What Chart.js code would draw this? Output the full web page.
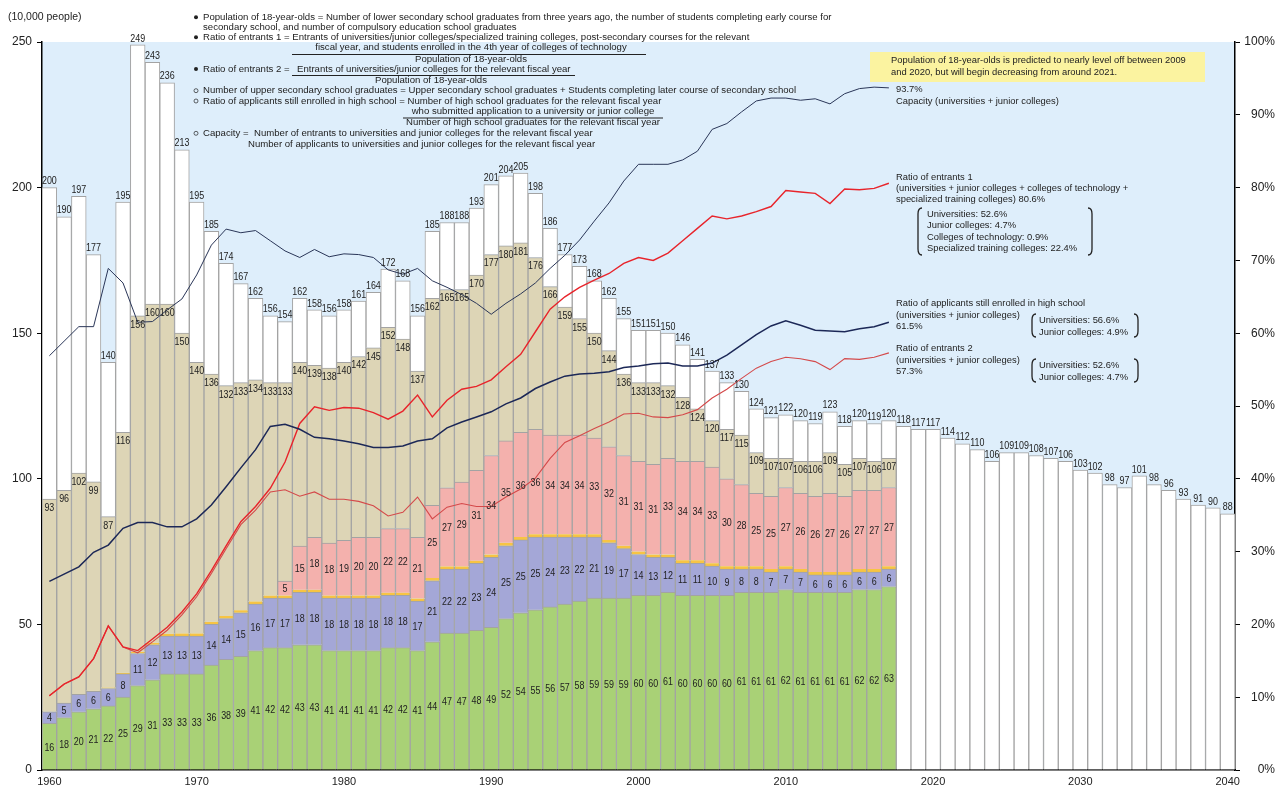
<!DOCTYPE html>
<html>
<head>
<meta charset="utf-8">
<script src="https://cdn.jsdelivr.net/npm/chart.js@4.4.1/dist/chart.umd.min.js"></script>
<style>
  html, body { margin: 0; padding: 0; background: #fff; }
</style>
</head>
<body>
<canvas id="trendChart" width="1283" height="787"></canvas>
<script>
// categories
const years = [
  1960, 1961, 1962, 1963, 1964, 1965, 1966, 1967, 1968, 1969,
  1970, 1971, 1972, 1973, 1974, 1975, 1976, 1977, 1978, 1979,
  1980, 1981, 1982, 1983, 1984, 1985, 1986, 1987, 1988, 1989,
  1990, 1991, 1992, 1993, 1994, 1995, 1996, 1997, 1998, 1999,
  2000, 2001, 2002, 2003, 2004, 2005, 2006, 2007, 2008, 2009,
  2010, 2011, 2012, 2013, 2014, 2015, 2016, 2017, 2018, 2019,
  2020, 2021, 2022, 2023, 2024, 2025, 2026, 2027, 2028, 2029,
  2030, 2031, 2032, 2033, 2034, 2035, 2036, 2037, 2038, 2039,
  2040
];
const xTickYears = [1960, 1970, 1980, 1990, 2000, 2010, 2020, 2030, 2040];

// population of 18-year-olds (10,000 people), 1960-2040
const population = [
  200, 190, 197, 177, 140, 195, 249, 243, 236, 213,
  195, 185, 174, 167, 162, 156, 154, 162, 158, 156,
  158, 161, 164, 172, 168, 156, 185, 188, 188, 193,
  201, 204, 205, 198, 186, 177, 173, 168, 162, 155,
  151, 151, 150, 146, 141, 137, 133, 130, 124, 121,
  122, 120, 119, 123, 118, 120, 119, 120, 118, 117,
  117, 114, 112, 110, 106, 109, 109, 108, 107, 106,
  103, 102, 98, 97, 101, 98, 96, 93, 91, 90,
  88
];

// the rest run 1960-2017
const graduates = [
  93, 96, 102, 99, 87, 116, 156, 160, 160, 150,
  140, 136, 132, 133, 134, 133, 133, 140, 139, 138,
  140, 142, 145, 152, 148, 137, 162, 165, 165, 170,
  177, 180, 181, 176, 166, 159, 155, 150, 144, 136,
  133, 133, 132, 128, 124, 120, 117, 115, 109, 107,
  107, 106, 106, 109, 105, 107, 106, 107
];
const universities = [
  16, 18, 20, 21, 22, 25, 29, 31, 33, 33,
  33, 36, 38, 39, 41, 42, 42, 43, 43, 41,
  41, 41, 41, 42, 42, 41, 44, 47, 47, 48,
  49, 52, 54, 55, 56, 57, 58, 59, 59, 59,
  60, 60, 61, 60, 60, 60, 60, 61, 61, 61,
  62, 61, 61, 61, 61, 62, 62, 63
];
const juniorColleges = [
  4, 5, 6, 6, 6, 8, 11, 12, 13, 13,
  13, 14, 14, 15, 16, 17, 17, 18, 18, 18,
  18, 18, 18, 18, 18, 17, 21, 22, 22, 23,
  24, 25, 25, 25, 24, 23, 22, 21, 19, 17,
  14, 13, 12, 11, 11, 10, 9, 8, 8, 7,
  7, 7, 6, 6, 6, 6, 6, 6
];
const techColleges = [
  0, 0, 0.1, 0.2, 0.3, 0.4, 0.6, 0.7, 0.8, 0.9,
  0.9, 0.9, 0.9, 0.9, 0.9, 0.9, 0.9, 0.9, 0.9, 0.9,
  0.9, 0.9, 0.9, 0.9, 0.9, 0.9, 0.9, 0.9, 0.9, 0.9,
  1.0, 1.0, 1.0, 1.0, 1.0, 1.0, 1.0, 1.0, 1.0, 1.0,
  1.0, 1.0, 1.0, 1.0, 1.0, 1.0, 1.0, 1.0, 1.0, 1.0,
  1.0, 1.0, 1.0, 1.0, 1.0, 1.0, 1.0, 1.0
];
const trainingColleges = [
  null, null, null, null, null, null, null, null, null, null,
  null, null, null, null, null, null, 5, 15, 18, 18,
  19, 20, 20, 22, 22, 21, 25, 27, 29, 31,
  34, 35, 36, 36, 34, 34, 34, 33, 32, 31,
  31, 31, 33, 34, 34, 33, 30, 28, 25, 25,
  27, 26, 26, 27, 26, 27, 27, 27
];

// ratios (%)
const capacity = [
  56.9, 58.9, 60.9, 60.9, 68.9, 66.9, 61.5, 61.6, 63.2, 64.7,
  68.0, 72.1, 74.3, 73.8, 74.1, 72.7, 71.3, 70.4, 71.5, 70.5,
  70.9, 70.8, 70.4, 68.7, 68.1, 68.9, 67.2, 66.3, 65.3, 64.1,
  62.6, 64.1, 65.4, 66.9, 68.9, 70.7, 72.8, 75.4, 77.9, 80.9,
  83.2, 83.2, 83.2, 83.8, 85.0, 88.0, 88.8, 90.4, 91.9, 92.3,
  92.3, 92.0, 92.2, 91.5, 92.9, 93.6, 93.8, 93.7
];
const applicantsRatio = [
  25.9, 26.9, 27.9, 29.9, 30.9, 33.2, 34.0, 34.0, 33.4, 33.4,
  34.5, 36.4, 38.9, 41.5, 44.0, 47.2, 47.5, 46.8, 45.7, 45.5,
  45.2, 44.8, 44.3, 44.3, 44.5, 45.2, 45.5, 47.0, 47.8, 48.5,
  49.2, 50.3, 51.1, 52.4, 53.3, 54.1, 54.4, 54.5, 54.7, 55.3,
  55.5, 55.8, 55.9, 55.5, 55.5, 55.9, 57.0, 58.4, 59.8, 61.0,
  61.7, 61.1, 60.4, 60.3, 60.2, 60.6, 60.9, 61.5
];
const entrantsRatio1 = [
  10.2, 11.8, 12.8, 15.3, 19.8, 16.9, 16.4, 18.0, 19.6, 21.7,
  24.2, 27.4, 30.8, 34.1, 36.2, 38.7, 42.3, 47.6, 49.9, 49.4,
  49.8, 49.7, 49.1, 48.2, 49.3, 51.5, 48.5, 50.8, 52.3, 52.7,
  53.6, 55.4, 57.1, 60.2, 63.3, 65.0, 66.3, 67.3, 68.2, 69.6,
  70.4, 70.0, 71.0, 72.7, 74.4, 76.1, 75.7, 76.1, 76.7, 77.4,
  79.6, 79.4, 79.2, 77.8, 79.8, 79.7, 79.9, 80.6
];
const entrantsRatio2 = [
  10.2, 11.8, 12.8, 15.3, 19.8, 16.9, 16.1, 17.6, 19.2, 21.3,
  23.8, 27.0, 30.4, 33.7, 35.7, 38.2, 38.5, 37.6, 38.2, 37.2,
  37.2, 36.9, 36.3, 34.9, 35.4, 37.5, 34.5, 36.1, 36.6, 36.2,
  36.2, 37.5, 38.6, 40.1, 42.8, 45.0, 45.9, 46.9, 47.8, 48.9,
  49.0, 48.5, 48.4, 48.8, 49.5, 51.1, 52.3, 53.8, 55.2, 56.1,
  56.7, 56.5, 56.1, 55.0, 56.5, 56.4, 56.7, 57.3
];

const FONT = '"Liberation Sans", Arial, Helvetica, sans-serif';
const pad = arr => years.map((y, i) => (i < arr.length ? arr[i] : null));

// stacked parts built from the read values
const lowerSum = i => universities[i] + juniorColleges[i] + techColleges[i] + (trainingColleges[i] || 0);
const tanPart = years.map((y, i) => (i < graduates.length ? graduates[i] - lowerSum(i) : null));
const whitePart = years.map((y, i) => population[i] - (i < graduates.length ? graduates[i] : 0));

function narrowText(ctx, text, x, y, sx) {
  ctx.save();
  ctx.translate(x, y);
  ctx.scale(sx, 1);
  ctx.fillText(text, 0, 0);
  ctx.restore();
}

function bracket(ctx, x, top, bottom, dir) {
  ctx.beginPath();
  ctx.moveTo(x + 4 * dir, top);
  ctx.quadraticCurveTo(x, top, x, top + 6);
  ctx.lineTo(x, bottom - 6);
  ctx.quadraticCurveTo(x, bottom, x + 4 * dir, bottom);
  ctx.stroke();
}

const plotBackground = {
  id: 'plotBackground',
  beforeDraw(chart) {
    const { ctx, chartArea: a } = chart;
    ctx.save();
    ctx.fillStyle = '#deeefb';
    ctx.fillRect(a.left, a.top, a.right - a.left, a.bottom - a.top);
    ctx.restore();
  }
};

const barLabels = {
  id: 'barLabels',
  afterDatasetsDraw(chart) {
    const { ctx } = chart;
    const x = chart.scales.x, y = chart.scales.y;
    ctx.save();
    ctx.fillStyle = '#222';
    ctx.font = '10.5px ' + FONT;
    ctx.textAlign = 'center';
    years.forEach((yr, i) => {
      const cx = x.getPixelForValue(i);
      if (i < graduates.length) {
        ctx.textBaseline = 'middle';
        const u = universities[i], j = juniorColleges[i];
        narrowText(ctx, String(u), cx, y.getPixelForValue(u / 2) + 1, 0.85);
        narrowText(ctx, String(j), cx, y.getPixelForValue(u + j / 2) + 1, 0.85);
        const s = trainingColleges[i];
        if (s != null) {
          const base = u + j + techColleges[i];
          narrowText(ctx, String(s), cx, y.getPixelForValue(base + s / 2) + 1, 0.85);
        }
        narrowText(ctx, String(graduates[i]), cx, y.getPixelForValue(graduates[i]) + 9, 0.85);
      }
      ctx.textBaseline = 'bottom';
      narrowText(ctx, String(population[i]), cx, y.getPixelForValue(population[i]) - 1, 0.85);
    });
    ctx.restore();
  }
};

const notes = {
  id: 'notes',
  afterDraw(chart) {
    const { ctx } = chart;
    ctx.save();
    ctx.fillStyle = '#222';
    ctx.strokeStyle = '#222';
    ctx.textBaseline = 'middle';
    ctx.textAlign = 'left';

    ctx.font = '10.5px ' + FONT;
    ctx.fillText('(10,000 people)', 8, 17);

    // definitions
    ctx.font = '9.6px ' + FONT;
    const dot = (x, y, filled) => {
      ctx.beginPath();
      ctx.arc(x, y, 2, 0, Math.PI * 2);
      if (filled) ctx.fill(); else { ctx.lineWidth = 0.7; ctx.stroke(); }
    };
    dot(196, 17.3, true);
    ctx.fillText('Population of 18-year-olds = Number of lower secondary school graduates from three years ago, the number of students completing early course for', 203, 17.3);
    ctx.fillText('secondary school, and number of compulsory education school graduates', 203, 27);
    dot(196, 37.3, true);
    ctx.fillText('Ratio of entrants 1 = Entrants of universities/junior colleges/specialized training colleges, post-secondary courses for the relevant', 203, 37.3);
    ctx.textAlign = 'center';
    ctx.fillText('fiscal year, and students enrolled in the 4th year of colleges of technology', 471, 47.3);
    ctx.fillText('Population of 18-year-olds', 471, 59.5);
    ctx.textAlign = 'left';
    dot(196, 69, true);
    ctx.fillText('Ratio of entrants 2 =', 203, 69);
    ctx.fillText('Entrants of universities/junior colleges for the relevant fiscal year', 297, 69);
    ctx.textAlign = 'center';
    ctx.fillText('Population of 18-year-olds', 431, 80.5);
    ctx.textAlign = 'left';
    dot(196, 90.7, false);
    ctx.fillText('Number of upper secondary school graduates = Upper secondary school graduates + Students completing later course of secondary school', 203, 90.7);
    dot(196, 101, false);
    ctx.fillText('Ratio of applicants still enrolled in high school = Number of high school graduates for the relevant fiscal year', 203, 101);
    ctx.textAlign = 'center';
    ctx.fillText('who submitted application to a university or junior college', 533, 111.7);
    ctx.fillText('Number of high school graduates for the relevant fiscal year', 533, 122.5);
    ctx.textAlign = 'left';
    dot(196, 133.3, false);
    ctx.fillText('Capacity =', 203, 133.3);
    ctx.fillText('Number of entrants to universities and junior colleges for the relevant fiscal year', 254, 133.3);
    ctx.fillText('Number of applicants to universities and junior colleges for the relevant fiscal year', 248, 144.3);

    ctx.lineWidth = 1;
    [[292, 646, 54.5], [292, 575, 75.5], [403, 663, 118]].forEach(([x1, x2, yy]) => {
      ctx.beginPath();
      ctx.moveTo(x1, yy);
      ctx.lineTo(x2, yy);
      ctx.stroke();
    });

    // forecast note
    ctx.font = '9.4px ' + FONT;
    ctx.fillStyle = '#fbf3a0';
    ctx.fillRect(870, 52, 335, 30);
    ctx.fillStyle = '#222';
    ctx.fillText('Population of 18-year-olds is predicted to nearly level off between 2009', 891, 60.7);
    ctx.fillText('and 2020, but will begin decreasing from around 2021.', 891, 72.7);

    // series labels
    ctx.fillText('93.7%', 896, 89.3);
    ctx.fillText('Capacity (universities + junior colleges)', 896, 101.5);
    ctx.fillText('Ratio of entrants 1', 896, 177.3);
    ctx.fillText('(universities + junior colleges + colleges of technology +', 896, 188.7);
    ctx.fillText('specialized training colleges) 80.6%', 896, 199.7);
    ctx.fillText('Universities: 52.6%', 927, 214);
    ctx.fillText('Junior colleges: 4.7%', 927, 225.3);
    ctx.fillText('Colleges of technology: 0.9%', 927, 237.3);
    ctx.fillText('Specialized training colleges: 22.4%', 927, 248.7);
    ctx.fillText('Ratio of applicants still enrolled in high school', 896, 303.3);
    ctx.fillText('(universities + junior colleges)', 896, 315);
    ctx.fillText('61.5%', 896, 326);
    ctx.fillText('Universities: 56.6%', 1039, 320.5);
    ctx.fillText('Junior colleges: 4.9%', 1039, 332);
    ctx.fillText('Ratio of entrants 2', 896, 348.3);
    ctx.fillText('(universities + junior colleges)', 896, 360.5);
    ctx.fillText('57.3%', 896, 371.7);
    ctx.fillText('Universities: 52.6%', 1039, 365.5);
    ctx.fillText('Junior colleges: 4.7%', 1039, 377.3);

    ctx.lineWidth = 1.3;
    bracket(ctx, 918, 208, 255, 1);
    bracket(ctx, 1092, 208, 255, -1);
    bracket(ctx, 1032, 314, 337, 1);
    bracket(ctx, 1138, 314, 337, -1);
    bracket(ctx, 1032, 359, 382, 1);
    bracket(ctx, 1138, 359, 382, -1);
    ctx.restore();
  }
};

const barStyle = {
  type: 'bar',
  yAxisID: 'y',
  stack: 'students',
  order: 2,
  borderColor: '#a3a3a3',
  borderWidth: 1,
  barPercentage: 1,
  categoryPercentage: 1
};
const lineStyle = {
  type: 'line',
  yAxisID: 'y1',
  order: 1,
  pointRadius: 0,
  tension: 0,
  fill: false
};

const ctx = document.getElementById('trendChart').getContext('2d');
window.trendChartInstance = new Chart(ctx, {
  data: {
    labels: years.map(String),
    datasets: [
      { ...barStyle, label: 'Universities', data: pad(universities), backgroundColor: '#a9d176' },
      { ...barStyle, label: 'Junior colleges', data: pad(juniorColleges), backgroundColor: '#a4a7d7' },
      { ...barStyle, label: 'Colleges of technology', data: pad(techColleges), backgroundColor: '#f7c443',
        borderWidth: { left: 1, right: 1, top: 0, bottom: 0 } },
      { ...barStyle, label: 'Specialized training colleges', data: pad(trainingColleges), backgroundColor: '#f4b1ad' },
      { ...barStyle, label: 'Upper secondary school graduates', data: tanPart, backgroundColor: '#ddd5b6' },
      { ...barStyle, label: 'Population of 18-year-olds', data: whitePart, backgroundColor: '#ffffff' },
      { ...lineStyle, label: 'Capacity', data: pad(capacity), borderColor: '#2a3658', borderWidth: 1 },
      { ...lineStyle, label: 'Ratio of applicants', data: pad(applicantsRatio), borderColor: '#1c2857', borderWidth: 1.5 },
      { ...lineStyle, label: 'Ratio of entrants 1', data: pad(entrantsRatio1), borderColor: '#e8242b', borderWidth: 1.4 },
      { ...lineStyle, label: 'Ratio of entrants 2', data: pad(entrantsRatio2), borderColor: '#d4494a', borderWidth: 1.1 }
    ]
  },
  options: {
    responsive: false,
    animation: false,
    devicePixelRatio: 1,
    layout: { padding: { top: 42, right: 8, left: 0, bottom: 0 } },
    plugins: {
      legend: { display: false },
      tooltip: { enabled: false }
    },
    scales: {
      x: {
        stacked: true,
        grid: { display: false, drawTicks: false },
        border: { display: true, color: '#000', width: 1.5 },
        ticks: {
          autoSkip: false,
          maxRotation: 0,
          padding: 5,
          color: '#222',
          font: { size: 11, family: FONT },
          callback: (v, idx) => (xTickYears.includes(years[idx]) ? String(years[idx]) : '')
        },
        afterFit: s => { s.height = 17; }
      },
      y: {
        stacked: true,
        position: 'left',
        min: 0,
        max: 250,
        grid: { drawOnChartArea: false, tickLength: 5, tickColor: '#000' },
        border: { color: '#000', width: 1.5 },
        ticks: { stepSize: 50, padding: 5, color: '#222', font: { size: 12, family: FONT } },
        afterFit: s => { s.width = 42; }
      },
      y1: {
        position: 'right',
        min: 0,
        max: 100,
        grid: { drawOnChartArea: false, tickLength: 5, tickColor: '#000' },
        border: { color: '#000', width: 1.5 },
        ticks: {
          stepSize: 10,
          crossAlign: 'far',
          color: '#222',
          font: { size: 12, family: FONT },
          callback: v => v + '%'
        },
        afterFit: s => { s.width = 40; }
      }
    }
  },
  plugins: [plotBackground, barLabels, notes]
});
</script>
</body>
</html>
